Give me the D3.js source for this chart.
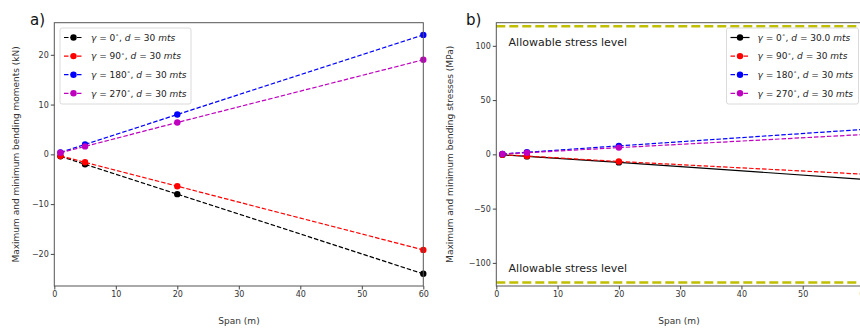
<!DOCTYPE html>
<html lang="en">
<head>
  <meta charset="utf-8">
  <script src="https://d3js.org/d3.v7.min.js"></script>
  <style>
    body { margin: 0; background: #fff; font-family: 'DejaVu Sans', sans-serif; }
    svg { display: block; }
    .axis path, .axis line { stroke: #444; }
    .axis text { fill: #333; font-size: 8px; font-family: 'DejaVu Sans', sans-serif; }
    .lbl { fill: #333; font-size: 9px; }
  </style>
</head>
<body>
<svg id="chart" width="860" height="329"></svg>
<script>
  // span positions (m)
  const spans = [1, 5, 20, 60];

  // a) bending moments (kN)
  const momentBlack   = [-0.4, -2.0, -8.0, -24.0];
  const momentRed     = [-0.32, -1.6, -6.4, -19.2];
  const momentBlue    = [0.4, 2.0, 8.0, 24.0];
  const momentMagenta = [0.32, 1.6, 6.4, 19.0];

  // b) bending stresses (MPa)
  const stressBlack   = [-0.4, -1.9, -7.4, -23.0];
  const stressRed     = [-0.3, -1.6, -6.6, -18.3];
  const stressBlue    = [0.4, 1.9, 7.8, 23.0];
  const stressMagenta = [0.3, 1.5, 6.2, 18.3];
  const allowable = 118;

  const ticksA = [-20, -10, 0, 10, 20];
  const ticksB = [-100, -50, 0, 50, 100];
  const ticksX = [0, 10, 20, 30, 40, 50, 60];

  const legendA = [
    {g: "0", d: "30", color: "#000", dash: true},
    {g: "90", d: "30", color: "#ff0000", dash: true},
    {g: "180", d: "30", color: "#0000ff", dash: true},
    {g: "270", d: "30", color: "#bf00bf", dash: true}
  ];
  const legendB = [
    {g: "0", d: "30.0", color: "#000", dash: false},
    {g: "90", d: "30", color: "#ff0000", dash: true},
    {g: "180", d: "30", color: "#0000ff", dash: true},
    {g: "270", d: "30", color: "#bf00bf", dash: true}
  ];

  const svg = d3.select("#chart");
  const defs = svg.append("defs");
  defs.append("clipPath").attr("id", "clipB")
    .append("rect").attr("x", 496).attr("y", 22).attr("width", 370).attr("height", 265);

  function panel(opts) {
    const x = d3.scaleLinear().domain([0, 60]).range([opts.left, opts.right]);
    const y = d3.scaleLinear().domain(opts.ydom).range([opts.bottom, opts.top]);
    const g = svg.append("g");

    const plot = g.append("g");
    if (opts.clip) plot.attr("clip-path", "url(#" + opts.clip + ")");

    if (opts.hline) {
      [opts.hline, -opts.hline].forEach(v => {
        plot.append("line")
          .attr("x1", x(0)).attr("x2", x(60) + 10)
          .attr("y1", y(v)).attr("y2", y(v))
          .attr("stroke", "#bfbf00").attr("stroke-width", 2.5)
          .attr("stroke-dasharray", "9,4");
      });
    }

    opts.series.forEach((s, i) => {
      const pts = spans.map((sp, j) => [sp, s[j]]);
      const st = opts.legend[i];
      plot.append("path")
        .attr("d", d3.line().x(d => x(d[0])).y(d => y(d[1]))(pts))
        .attr("fill", "none").attr("stroke", st.color).attr("stroke-width", 1.2)
        .attr("stroke-dasharray", st.dash ? "4.5,2" : null);
      plot.selectAll(null).data(pts).enter().append("circle")
        .attr("cx", d => x(d[0])).attr("cy", d => y(d[1])).attr("r", 3.2)
        .attr("fill", st.color);
    });

    // spines
    g.append("rect")
      .attr("x", opts.left).attr("y", opts.top)
      .attr("width", opts.right - opts.left).attr("height", opts.bottom - opts.top)
      .attr("fill", "none").attr("stroke", "#555").attr("stroke-width", 1);

    g.append("g").attr("class", "axis")
      .attr("transform", `translate(0,${opts.bottom})`)
      .call(d3.axisBottom(x).tickValues(ticksX).tickSize(3.5).tickPadding(2).tickFormat(d3.format("d")))
      .call(a => a.select(".domain").remove());
    g.append("g").attr("class", "axis")
      .attr("transform", `translate(${opts.left},0)`)
      .call(d3.axisLeft(y).tickValues(opts.yticks).tickSize(3.5).tickPadding(2)
        .tickFormat(d => d < 0 ? "\u2212" + Math.abs(d) : d))
      .call(a => a.select(".domain").remove());

    g.append("text").attr("class", "lbl")
      .attr("x", opts.xlabelX)
      .attr("y", 324).attr("text-anchor", "middle").text("Span (m)");
    g.append("text").attr("class", "lbl")
      .attr("transform", `translate(${opts.ylabelX},${(opts.top + opts.bottom) / 2}) rotate(-90)`)
      .attr("text-anchor", "middle").text(opts.ylabel);
    g.append("text").attr("x", opts.tagX).attr("y", 25)
      .attr("font-size", 15).attr("fill", "#111").text(opts.tag);

    if (opts.hline) {
      g.append("text").attr("x", x(2)).attr("y", 45.5)
        .attr("font-size", 11).attr("fill", "#222").text("Allowable stress level");
      g.append("text").attr("x", x(2)).attr("y", 272)
        .attr("font-size", 11).attr("fill", "#222").text("Allowable stress level");
    }

    // legend
    const lg = g.append("g").attr("transform", `translate(${opts.legX},28)`);
    lg.append("rect").attr("width", opts.legW).attr("height", 76).attr("rx", 2)
      .attr("fill", "#fff").attr("fill-opacity", 0.85).attr("stroke", "#d0d0d0").attr("stroke-width", 0.8);
    opts.legend.forEach((e, i) => {
      const cy = 9.5 + i * 18.6;
      lg.append("line").attr("x1", 4).attr("x2", 23).attr("y1", cy).attr("y2", cy)
        .attr("stroke", e.color).attr("stroke-width", 1.2)
        .attr("stroke-dasharray", e.dash ? "4.5,2" : null);
      lg.append("circle").attr("cx", 13.5).attr("cy", cy).attr("r", 3.2).attr("fill", e.color);
      const t = lg.append("text").attr("x", 31).attr("y", cy + 3.2)
        .attr("font-size", 9).attr("fill", "#222");
      t.append("tspan").attr("font-style", "italic").text("\u03b3");
      t.append("tspan").text(" = " + e.g);
      t.append("tspan").attr("font-size", 6).attr("dy", -3.5).text("\u2218");
      t.append("tspan").attr("dy", 3.5).text(", ");
      t.append("tspan").attr("font-style", "italic").text("d");
      t.append("tspan").text(" = " + e.d + " ");
      t.append("tspan").attr("font-style", "italic").text("mts");
    });
  }

  panel({
    left: 54.3, right: 423.3, top: 22.7, bottom: 286,
    ydom: [-26.45, 26.45], yticks: ticksA,
    series: [momentBlack, momentRed, momentBlue, momentMagenta],
    legend: legendA, legX: 60, legW: 131,
    xlabelX: 239, ylabelX: 19,
    ylabel: "Maximum and minimum bending moments (kN)",
    tag: "a)", tagX: 30
  });

  panel({
    left: 496.3, right: 864, top: 22.7, bottom: 286,
    ydom: [-121.3, 121.3], yticks: ticksB,
    series: [stressBlack, stressRed, stressBlue, stressMagenta],
    legend: legendB, legX: 726.5, legW: 132,
    xlabelX: 679, ylabelX: 453,
    ylabel: "Maximum and minimum bending stresses (MPa)",
    tag: "b)", tagX: 466, hline: allowable, clip: "clipB"
  });
</script>
</body>
</html>
